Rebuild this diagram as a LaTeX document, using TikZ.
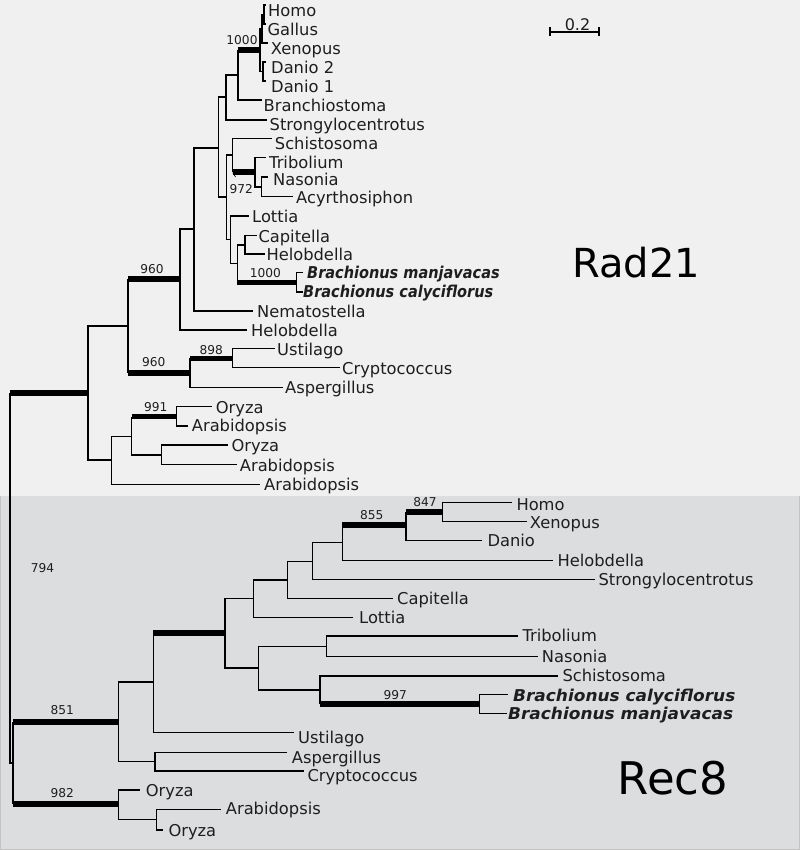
\documentclass[tikz,border=0pt]{standalone}
\usepackage{fontspec}
\setmainfont{DejaVu Sans}
\definecolor{bgtop}{HTML}{F0F0F0}
\definecolor{bgbot}{HTML}{DCDDDF}
\definecolor{edgebd}{HTML}{C4C4C4}
\definecolor{ink}{HTML}{1E1E1E}
\tikzset{
  br/.style={line width=1.4pt, draw=black},
  tb/.style={line width=5.3pt, draw=black},
  lf/.style={anchor=base west, inner sep=0pt, yshift=-5.9pt, text=ink, font=\fontsize{16.3}{18}\selectfont},
  lfb/.style={lf, font=\fontsize{16.3}{18}\selectfont\bfseries\itshape},
  bs/.style={anchor=center, inner sep=0pt, text=ink, font=\fontsize{12.2}{14}\selectfont},
  big/.style={anchor=center, inner sep=0pt, text=black, font=\fontsize{40}{44}\selectfont}
}
\newcommand\ed[2]{\draw[br] (#1) |- (#2);}
\newcommand\edt[2]{\draw[br] (#1) -- (#1 |- #2); \draw[tb] (#1 |- #2) -- (#2);}
\begin{document}
\begin{tikzpicture}[x=1pt,y=-1pt]
\useasboundingbox (0,0) rectangle (800,850);
\fill[bgtop] (0,0) rectangle (800,496);
\fill[bgbot] (0,496) rectangle (800,850);
\draw[edgebd, line width=1.2pt] (0.6,496) -- (0.6,849.4) -- (799.4,849.4) -- (799.4,496);

% ---------- Rad21 internal nodes ----------
\coordinate (root) at (10,578);
\coordinate (J) at (88,393);
\coordinate (G) at (128,326);
\coordinate (F) at (180,279);
\coordinate (E) at (194,229);
\coordinate (D) at (218.5,148);
\coordinate (C) at (226,97);
\coordinate (B) at (238,75);
\coordinate (A) at (260,50);
\coordinate (HGX) at (262,29);
\coordinate (HG) at (264,14.5);
\coordinate (DAN) at (263,71.5);
\coordinate (D2) at (226.7,197);
\coordinate (SCH) at (232.7,155);
\coordinate (N972) at (255,172);
\coordinate (NA) at (261.7,187);
\coordinate (LBC) at (230.7,239.5);
\coordinate (CHB) at (237.3,263.5);
\coordinate (CH) at (245,245);
\coordinate (BR) at (296.7,282.3);
\coordinate (H) at (190,373);
\coordinate (I) at (232.7,358.3);
\coordinate (K) at (111.7,460);
\coordinate (L) at (131.7,436.7);
\coordinate (M) at (176.7,416.7);
\coordinate (N) at (161.7,455);
% Rad21 leaf ends
\coordinate (a1) at (266,5);
\coordinate (a2) at (266,24);
\coordinate (a3) at (268,43);
\coordinate (a4) at (266,62);
\coordinate (a5) at (266,81);
\coordinate (a6) at (262,100);
\coordinate (a7) at (267,120);
\coordinate (a8) at (271.7,138.3);
\coordinate (a9) at (266,157.3);
\coordinate (a10) at (268,177);
\coordinate (a11) at (293,196.7);
\coordinate (a12) at (249,216);
\coordinate (a13) at (256.7,235.4);
\coordinate (a14) at (265,254);
\coordinate (a15) at (303,272.7);
\coordinate (a16) at (303,292);
\coordinate (a17) at (253,311);
\coordinate (a18) at (247,330);
\coordinate (a19) at (275,348.3);
\coordinate (a20) at (340,367.7);
\coordinate (a21) at (282.7,387.7);
\coordinate (a22) at (211.7,406.7);
\coordinate (a23) at (188.3,426);
\coordinate (a24) at (228.3,445);
\coordinate (a25) at (236.7,464.3);
\coordinate (a26) at (260,484.3);

% ---------- Rec8 internal nodes ----------
\coordinate (rec) at (13,763);
\coordinate (P) at (118.3,722);
\coordinate (O) at (118.3,804);
\coordinate (R) at (153.3,682);
\coordinate (Q) at (155,761.7);
\coordinate (S) at (225,633);
\coordinate (T) at (253.3,598.3);
\coordinate (U) at (287.3,580);
\coordinate (V) at (312.3,561.5);
\coordinate (W) at (342.3,542.5);
\coordinate (X) at (406,525);
\coordinate (Y) at (442.7,512);
\coordinate (Z) at (258.3,668);
\coordinate (AA) at (326.7,646.5);
\coordinate (AB) at (320,690);
\coordinate (AC) at (479.3,704);
\coordinate (OA) at (156.7,819.5);
% Rec8 leaf ends
\coordinate (b1) at (511.7,502.7);
\coordinate (b2) at (526.7,521.7);
\coordinate (b3) at (481.7,540.7);
\coordinate (b4) at (552.7,560.7);
\coordinate (b5) at (595,579.3);
\coordinate (b6) at (393.3,598.3);
\coordinate (b7) at (353.3,617.3);
\coordinate (b8) at (518.3,636);
\coordinate (b9) at (538.3,656.7);
\coordinate (b10) at (558,676);
\coordinate (b11) at (508.3,694.3);
\coordinate (b12) at (506.7,713.3);
\coordinate (b13) at (294,732.3);
\coordinate (b14) at (287.3,752.3);
\coordinate (b15) at (304,771);
\coordinate (b16) at (140,790);
\coordinate (b17) at (220.7,809.3);
\coordinate (b18) at (163.3,830);

% ---------- edges ----------
\edt{root}{J} \ed{root}{rec}
\ed{J}{G} \ed{J}{K}
\edt{G}{F} \edt{G}{H}
\ed{F}{E} \ed{F}{a18}
\ed{E}{D} \ed{E}{a17}
\ed{D}{C} \ed{D}{D2}
\ed{C}{B} \ed{C}{a7}
\edt{B}{A} \ed{B}{a6}
\ed{A}{HGX} \ed{A}{DAN}
\ed{HGX}{HG} \ed{HGX}{a3}
\ed{HG}{a1} \ed{HG}{a2}
\ed{DAN}{a4} \ed{DAN}{a5}
\ed{D2}{SCH} \ed{D2}{LBC}
\ed{SCH}{a8} \edt{SCH}{N972}
\ed{N972}{a9} \ed{N972}{NA}
\ed{NA}{a10} \ed{NA}{a11}
\ed{LBC}{a12} \ed{LBC}{CHB}
\ed{CHB}{CH} \edt{CHB}{BR}
\ed{CH}{a13} \ed{CH}{a14}
\ed{BR}{a15} \ed{BR}{a16}
\edt{H}{I} \ed{H}{a21}
\ed{I}{a19} \ed{I}{a20}
\ed{K}{L} \ed{K}{a26}
\edt{L}{M} \ed{L}{N}
\ed{M}{a22} \ed{M}{a23}
\ed{N}{a24} \ed{N}{a25}

\edt{rec}{P} \edt{rec}{O}
\ed{P}{R} \ed{P}{Q}
\edt{R}{S} \ed{R}{b13}
\ed{Q}{b14} \ed{Q}{b15}
\ed{S}{T} \ed{S}{Z}
\ed{T}{U} \ed{T}{b7}
\ed{U}{V} \ed{U}{b6}
\ed{V}{W} \ed{V}{b5}
\edt{W}{X} \ed{W}{b4}
\edt{X}{Y} \ed{X}{b3}
\ed{Y}{b1} \ed{Y}{b2}
\ed{Z}{AA} \ed{Z}{AB}
\ed{AA}{b8} \ed{AA}{b9}
\ed{AB}{b10} \edt{AB}{AC}
\ed{AC}{b11} \ed{AC}{b12}
\ed{O}{b16} \ed{O}{OA}
\ed{OA}{b17} \ed{OA}{b18}

% ---------- Rad21 leaf labels ----------
\node[lf] (t1) at (268,10.8) {Homo};
\node[lf] (t2) at (267.3,29.8) {Gallus};
\node[lf] (t3) at (270.7,48.5) {Xenopus};
\node[lf] (t4) at (271,67.5) {Danio 2};
\node[lf] (t5) at (271,86.2) {Danio 1};
\node[lf] (t6) at (263.5,105.5) {Branchiostoma};
\node[lf] (t7) at (269.5,125) {Strongylocentrotus};
\node[lf] (t8) at (274.7,144) {Schistosoma};
\node[lf] (t9) at (269,162.5) {Tribolium};
\node[lf] (t10) at (273,180) {Nasonia};
\node[lf] (t11) at (296,197.5) {Acyrthosiphon};
\node[lf] (t12) at (252,216.2) {Lottia};
\node[lf] (t13) at (258.3,237) {Capitella};
\node[lf] (t14) at (266.3,255) {Helobdella};
\node[lfb] (t15) at (307,273) {\scalebox{0.89}[1]{Brachionus manjavacas}};
\node[lfb] (t16) at (303,292) {\scalebox{0.89}[1]{Brachionus calyciflorus}};
\node[lf] (t17) at (257,311.7) {Nematostella};
\node[lf] (t18) at (251,331) {Helobdella};
\node[lf] (t19) at (277,349.5) {Ustilago};
\node[lf] (t20) at (342,369) {Cryptococcus};
\node[lf] (t21) at (285,387.5) {Aspergillus};
\node[lf] (t22) at (215.7,407.5) {Oryza};
\node[lf] (t23) at (191.7,425.5) {Arabidopsis};
\node[lf] (t24) at (231.3,446) {Oryza};
\node[lf] (t25) at (239.7,465.5) {Arabidopsis};
\node[lf] (t26) at (264,485) {Arabidopsis};

% ---------- Rec8 leaf labels ----------
\node[lf] (u1) at (516.3,504.2) {Homo};
\node[lf] (u2) at (529.7,522.5) {Xenopus};
\node[lf] (u3) at (487.3,541) {Danio};
\node[lf] (u4) at (557.3,561) {Helobdella};
\node[lf] (u5) at (598.3,580) {Strongylocentrotus};
\node[lf] (u6) at (397,599) {Capitella};
\node[lf] (u7) at (359,617.5) {Lottia};
\node[lf] (u8) at (522.3,635.5) {Tribolium};
\node[lf] (u9) at (541.7,656.3) {Nasonia};
\node[lf] (u10) at (562.3,676) {Schistosoma};
\node[lfb] (u11) at (513,695.5) {\scalebox{1.04}[1]{Brachionus calyciflorus}};
\node[lfb] (u12) at (508,714) {\scalebox{1.04}[1]{Brachionus manjavacas}};
\node[lf] (u13) at (298,737.5) {Ustilago};
\node[lf] (u14) at (291.7,757.5) {Aspergillus};
\node[lf] (u15) at (307.3,776) {Cryptococcus};
\node[lf] (u16) at (145.7,790.5) {Oryza};
\node[lf] (u17) at (225.7,809) {Arabidopsis};
\node[lf] (u18) at (168.3,831) {Oryza};

% ---------- bootstrap values ----------
\node[bs] (v1) at (242,40) {1000};
\node[bs] (v2) at (241.3,189.5) {972};
\draw[black, line width=0.6pt] (232.7,172.7) -- (235.6,177);
\node[bs] (v3) at (265.3,272.8) {1000};
\node[bs] (v4) at (152,268.7) {960};
\node[bs] (v5) at (153.8,362) {960};
\node[bs] (v6) at (211.3,349.7) {898};
\node[bs] (v7) at (155.8,407.2) {991};
\node[bs] (v8) at (42.5,568.3) {794};
\node[bs] (v9) at (62.3,710) {851};
\node[bs] (v10) at (62.3,792.8) {982};
\node[bs] (v11) at (371.7,514.7) {855};
\node[bs] (v12) at (425,502.3) {847};
\node[bs] (v13) at (395.3,695) {997};

% ---------- scale bar ----------
\coordinate (s1) at (550,32);
\coordinate (s2) at (599,32);
\draw[br] (s1) -- (s2);
\draw[br] ([yshift=4.5pt]s1) -- ([yshift=-4.5pt]s1);
\draw[br] ([yshift=4.5pt]s2) -- ([yshift=-4.5pt]s2);
\node[anchor=center, inner sep=0pt, text=ink, font=\fontsize{16}{18}\selectfont] (sc) at (577.5,24.2) {0.2};

% ---------- big labels ----------
\node[big] (rad) at (636,263) {Rad21};
\node[big, font=\fontsize{45}{50}\selectfont] (rc8) at (673,778) {Rec8};
\end{tikzpicture}
\end{document}
